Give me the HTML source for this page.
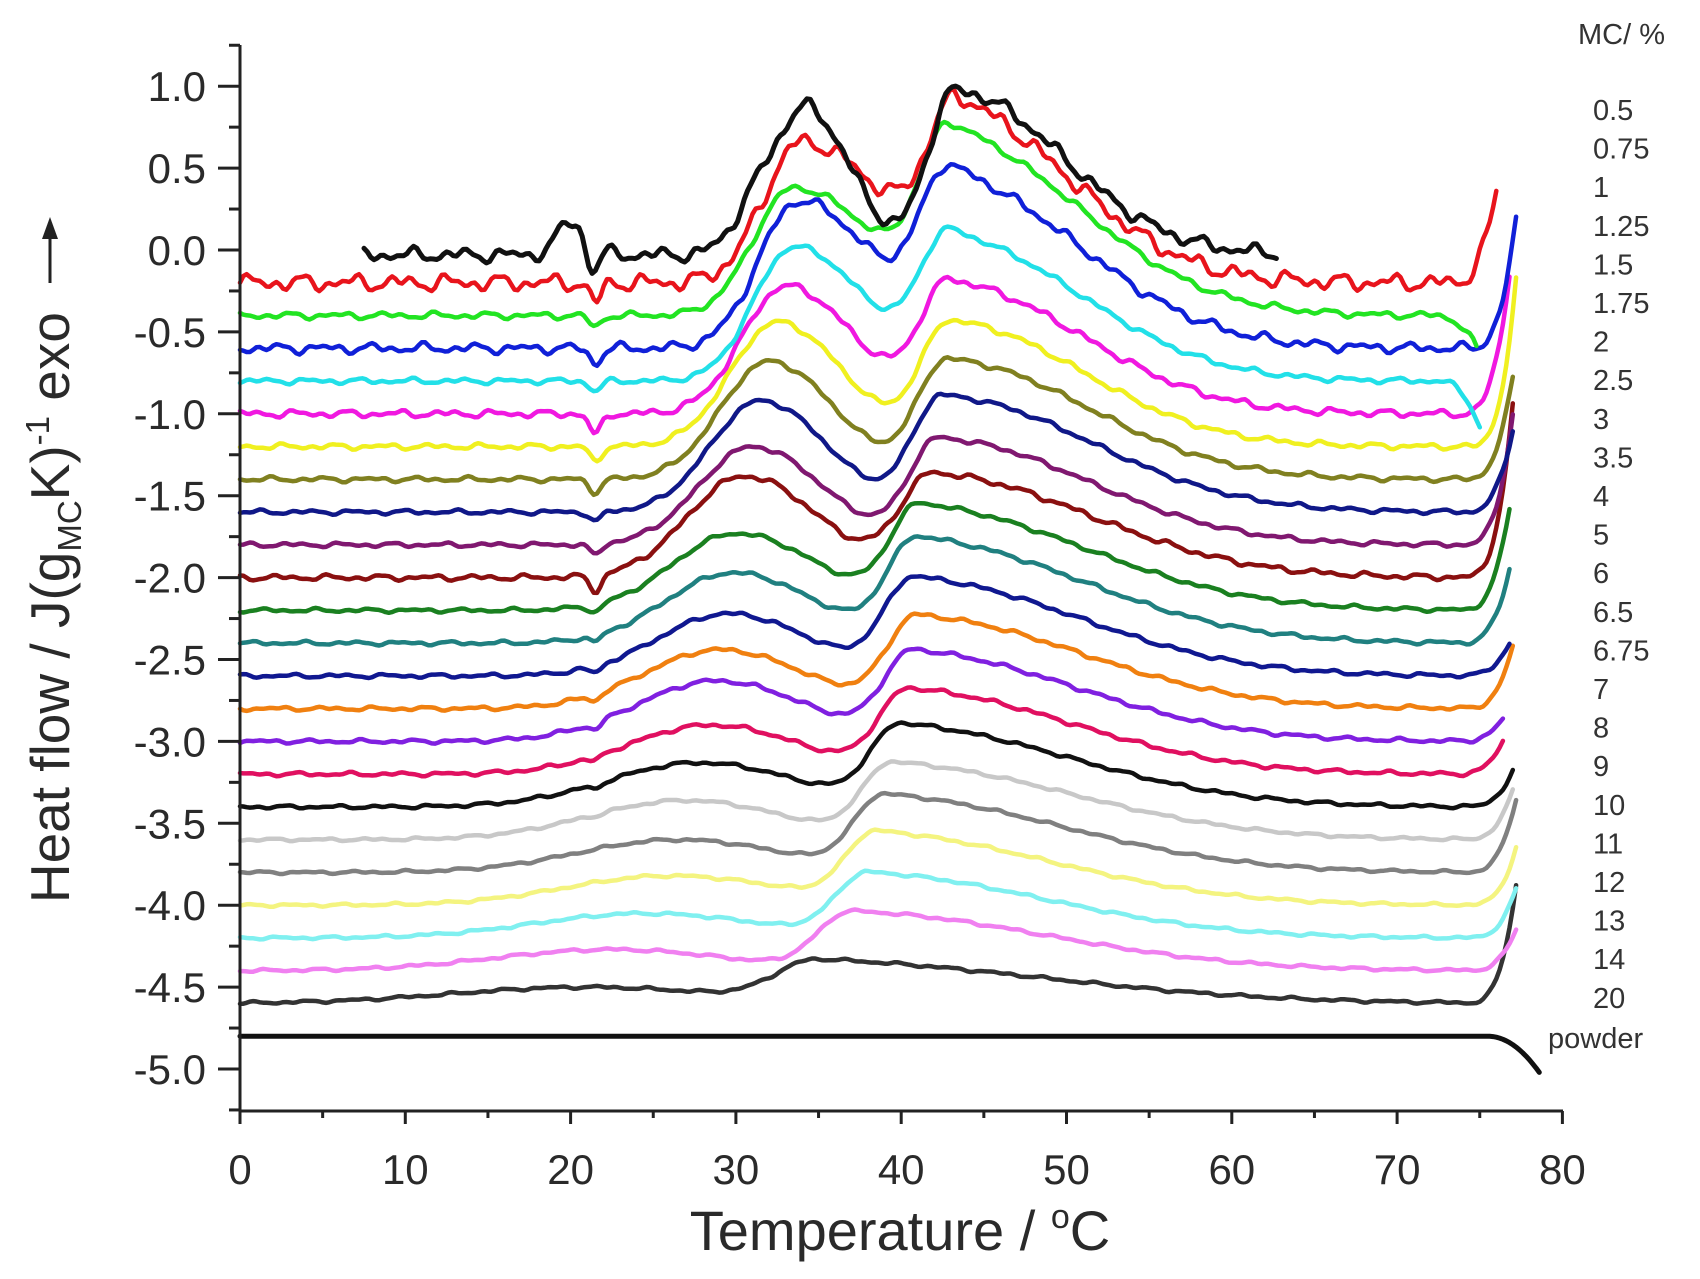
<!DOCTYPE html>
<html><head><meta charset="utf-8">
<style>
html,body{margin:0;padding:0;background:#fff;}
svg{display:block;font-family:"Liberation Sans",Arial,sans-serif;}
</style></head>
<body>
<svg id="s" width="1700" height="1279" viewBox="0 0 1700 1279" xmlns="http://www.w3.org/2000/svg">
<rect width="1700" height="1279" fill="#fff"/>
<g id="curves" fill="none" stroke-linejoin="round" stroke-linecap="round"></g>
<g id="axes" stroke="#222" stroke-width="3" fill="none">
<line x1="240" y1="45" x2="240" y2="1111"/>
<line x1="240" y1="1111" x2="1563" y2="1111"/>
</g>
<g id="ticks" stroke="#222" stroke-width="3"></g>
<g id="labels" fill="#2a2a2a" font-size="42"></g>
<text x="900" y="1250" font-size="56" fill="#2a2a2a" text-anchor="middle">Temperature / <tspan font-size="34" dy="-22">o</tspan><tspan dy="22">C</tspan></text>
<g transform="translate(69,312) rotate(-90)">
<text x="0" y="0" font-size="55" fill="#2a2a2a" text-anchor="end">Heat flow / J(g<tspan font-size="33" dy="12">MC</tspan><tspan dy="-12">K)</tspan><tspan font-size="33" dy="-20">-1</tspan><tspan dy="20">  exo</tspan></text>
</g>
<g transform="translate(50,283) rotate(-90)">
<line x1="0" y1="0" x2="48" y2="0" stroke="#222" stroke-width="3"/>
<polygon points="44,-8 66,0 44,8" fill="#222"/>
</g>
<g id="legend" fill="#333" font-size="29"></g>
</svg>
<script>
var NS="http://www.w3.org/2000/svg";
function px(T){return 240+16.53*T;}
function py(v){return 250-163.8*v;}
function el(n,a,p,t){var e=document.createElementNS(NS,n);for(var k in a)e.setAttribute(k,a[k]);if(t!==undefined)e.textContent=t;p.appendChild(e);return e;}
var tk=document.getElementById('ticks'),lb=document.getElementById('labels');
for(var i=0;i<=25;i++){var v=1.0-i*0.25;var y=py(v+0.0);var major=(i%2==0);
 if(y<45)continue;
 el('line',{x1:major?218:229,y1:y,x2:240,y2:y},tk);
 if(major){el('text',{x:206,y:y+15,'text-anchor':'end'},lb,(v.toFixed(1)).replace('-0.0','0.0'));}}
el('line',{x1:229,y1:py(1.25),x2:240,y2:py(1.25)},tk);
for(var i=0;i<=16;i++){var T=i*5;var x=px(T);var major=(i%2==0);
 el('line',{x1:x,y1:1111,x2:x,y2:major?1124:1118},tk);
 if(major)el('text',{x:x,y:1184,'text-anchor':'middle'},lb,String(T));}
var lg=document.getElementById('legend');
el('text',{x:1578,y:44},lg,'MC/ %');
var L=['0.5','0.75','1','1.25','1.5','1.75','2','2.5','3','3.5','4','5','6','6.5','6.75','7','8','9','10','11','12','13','14','20'];
for(var i=0;i<L.length;i++)el('text',{x:1593,y:120+i*38.6},lg,L[i]);
el('text',{x:1548,y:1048},lg,'powder');
var C=[
[-0.2,'#e8141c',34,0.86,2.3,5,43.5,1.0,1.8,7,0.03,76,0.55,0.12],
[-0.4,'#22e422',33.5,0.78,2.4,5,43,1.05,1.8,8,0.012,74.8,-0.2,0.07],
[-0.6,'#1020d8',33.8,0.9,2.4,4.6,43,1.0,1.8,8,0.018,77.2,0.78,0.09],
[-0.8,'#22e0e8',33.5,0.82,2.4,4.4,43,0.85,1.8,8,0.01,75,-0.28,0.06],
[-1.0,'#f018e0',33,0.78,2.6,4.2,43,0.78,1.8,8,0.013,76.8,0.85,0.13],
[-1.2,'#f0f020',32.5,0.76,2.8,4,43,0.75,1.8,8,0.01,77.3,1.12,0.09],
[-1.4,'#808020',32,0.72,2.9,4,42.8,0.72,1.8,8.5,0.009,77,0.62,0.08],
[-1.6,'#101888',31.5,0.68,3,4,42.5,0.7,1.8,9,0.008,77,0.5,0.06],
[-1.8,'#801870',31,0.6,3.2,4.2,42.3,0.64,1.8,9,0.008,77,0.8,0.07],
[-2.0,'#8a1010',30.5,0.62,3.4,4.5,42,0.62,2,9.5,0.01,77,1.05,0.1],
[-2.2,'#1a8020',30,0.47,3.8,5,41.2,0.62,1.8,10,0.007,76.8,0.62,0.05],
[-2.4,'#208080',29.8,0.43,4,5,41,0.62,1.8,10,0.007,76.8,0.45,0.04],
[-2.6,'#101890',29.5,0.38,4.2,5,40.8,0.58,1.8,10,0.007,76.8,0.2,0.04],
[-2.8,'#f08010',29,0.36,4.5,5.2,41,0.55,1.8,10,0.007,77,0.38,0.04],
[-3.0,'#8020e0',28.8,0.37,4.8,5.5,40.8,0.53,1.8,10,0.007,76.5,0.15,0.04],
[-3.2,'#e01060',28.5,0.3,5,5.5,40.5,0.5,1.8,10,0.007,76.5,0.22,0.03],
[-3.4,'#111',27.8,0.27,5.5,6,40,0.48,1.8,10.5,0.006,77,0.22,0.03],
[-3.6,'#c8c8c8',27,0.24,5.8,6,39.5,0.45,1.8,11,0.005,77,0.3,0.01],
[-3.8,'#808080',26.5,0.2,6,6.5,39,0.45,1.8,11,0.005,77.2,0.45,0.0],
[-4.0,'#f4f480',26,0.18,6.2,7,38.5,0.42,1.8,11,0.005,77.2,0.35,0.0],
[-4.2,'#80f0f0',24.5,0.15,6.5,7,38,0.38,1.9,11,0.005,77.2,0.3,0.0],
[-4.4,'#f080f0',22.5,0.13,7,7,37,0.35,2,12,0.005,77.2,0.25,0.0],
[-4.6,'#333',21,0.1,8,8,35,0.25,2.5,14,0.005,77.3,0.8,0.0]
];
function G(T,p,wl,wr){var w=T<p?wl:wr;var d=(T-p)/w;return Math.exp(-d*d/2);}
function noise(T,s,a){return a*(Math.sin(T*2.1+s)+0.7*Math.sin(T*3.7+s*1.3)+0.5*Math.sin(T*6.3+s*2.1));}
var cg=document.getElementById('curves');
for(var i=C.length-1;i>=0;i--){var c=C[i];var d='';
 for(var T=0;T<=c[11]+0.001;T+=0.2){
  var v=c[0]+c[3]*G(T,c[2],c[4],c[5])+c[7]*G(T,c[6],c[8],c[9])+noise(T,i*1.7,c[10]);
  v-=c[13]*Math.exp(-Math.pow((T-21.5)/0.35,2)/2);
  var e=T-(c[11]-3);if(e>0)v+=c[12]*Math.pow(e/3,3);
  d+=(d?'L':'M')+px(T).toFixed(1)+' '+py(v).toFixed(1);}
 el('path',{d:d,stroke:c[1],'stroke-width':4.5},cg);}
var d='';for(var T=7.5;T<=62.8;T+=0.2){
 var v=-0.03+0.72*G(T,34.6,2.0,2.6)+0.3*G(T,31.5,1.5,3)+1.0*G(T,43.2,1.6,6.5)+0.2*G(T,20,0.8,1)+noise(T,5,0.025);
 v-=0.18*Math.exp(-Math.pow((T-21.3)/0.35,2)/2);
 d+=(d?'L':'M')+px(T).toFixed(1)+' '+py(v).toFixed(1);}
el('path',{d:d,stroke:'#111','stroke-width':5},cg);
d='';for(var T=0;T<=78.8;T+=0.2){var v=-4.8;var e=T-75.5;if(e>0)v-=0.25*Math.pow(e/3.3,2);d+=(d?'L':'M')+px(T).toFixed(1)+' '+py(v).toFixed(1);}
el('path',{d:d,stroke:'#111','stroke-width':5},cg);
</script>
</body></html>
